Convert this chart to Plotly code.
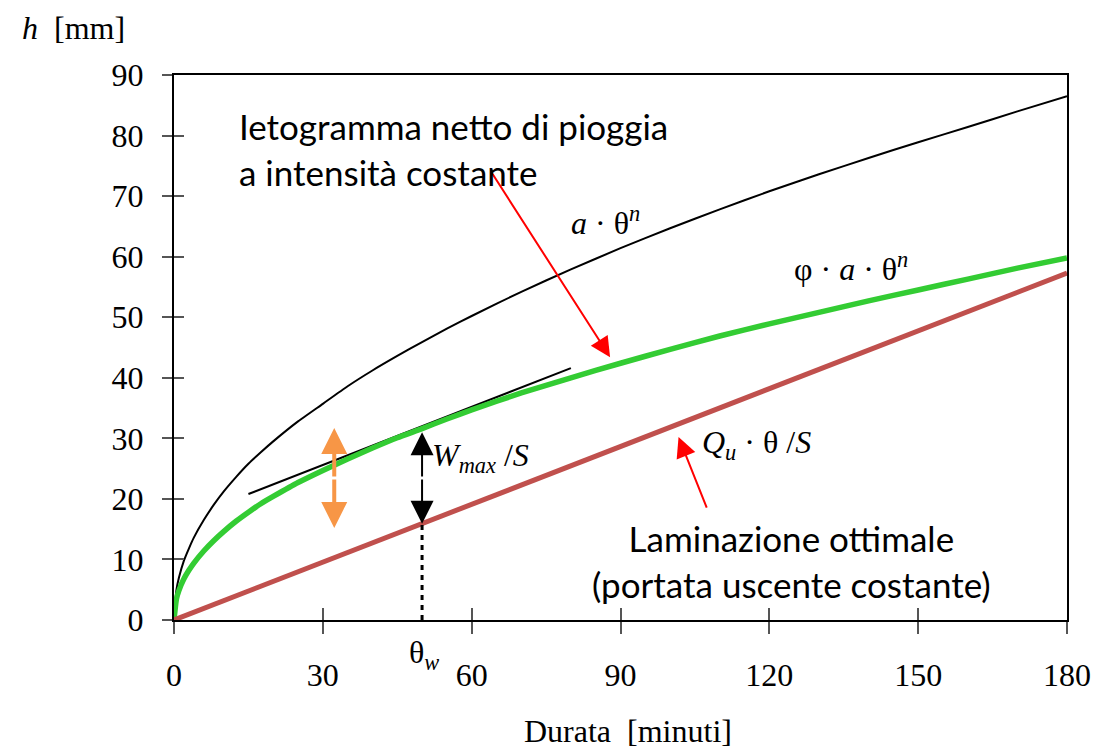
import plotly.graph_objects as go

# ---- data ----
theta = [0, 0.5, 1, 2, 3, 4, 6, 8, 10, 12.5, 15, 17.5, 20, 25, 30, 35, 40, 45, 50, 55, 60,
         70, 80, 90, 100, 110, 120, 130, 140, 150, 160, 170, 180]
h_gross = [0, 5.0, 7.0, 9.8, 11.8, 13.6, 16.5, 19.0, 21.2, 23.6, 25.8, 27.7, 29.5, 32.8, 35.7,
           38.6, 41.2, 43.6, 45.9, 48.1, 50.2, 54.2, 57.9, 61.4, 64.7, 67.8, 70.8, 73.6, 76.3,
           78.9, 81.4, 84.0, 86.5]
h_net = [0, 3.5, 4.9, 6.8, 8.2, 9.4, 11.4, 13.1, 14.6, 16.3, 17.8, 19.2, 20.4, 22.7, 24.7,
         26.6, 28.4, 30.1, 31.6, 33.2, 34.7, 37.5, 40.0, 42.4, 44.7, 46.9, 48.9, 50.8, 52.7,
         54.5, 56.3, 58.1, 59.8]
out_theta = [0, 180]
out_h = [0, 57.3]
tangent_theta = [15, 80]
tangent_h = [20.8, 41.6]
theta_w = 50
wmax_top, wmax_bottom = 31.0, 15.9
orange_theta, orange_top, orange_bottom = 32.3, 31.7, 15.2

x_ticks = [0, 30, 60, 90, 120, 150, 180]
y_ticks = [0, 10, 20, 30, 40, 50, 60, 70, 80, 90]

SERIF = "Liberation Serif"
SANS = "Lato"

fig = go.Figure()
fig.add_trace(go.Scatter(x=theta, y=h_gross, mode="lines",
                         line=dict(color="black", width=2, shape="spline", smoothing=0.5),
                         showlegend=False))
fig.add_trace(go.Scatter(x=tangent_theta, y=tangent_h, mode="lines",
                         line=dict(color="black", width=2), showlegend=False))
fig.add_trace(go.Scatter(x=theta, y=h_net, mode="lines",
                         line=dict(color="#33CC33", width=5.5, shape="spline", smoothing=0.5),
                         showlegend=False))
fig.add_trace(go.Scatter(x=out_theta, y=out_h, mode="lines",
                         line=dict(color="#C0504D", width=5), showlegend=False))
fig.add_trace(go.Scatter(x=[theta_w, theta_w], y=[0, wmax_bottom], mode="lines",
                         line=dict(color="black", width=3, dash="5px,5px"), showlegend=False))
# invisible trace for overlay axes
fig.add_trace(go.Scatter(x=[0], y=[0], mode="markers", marker=dict(opacity=0),
                         xaxis="x2", yaxis="y2", showlegend=False, hoverinfo="skip"))

ann = []
# double arrows
for (xx, top, bot, col, w, sz) in [(theta_w, wmax_top, wmax_bottom, "black", 2, 2.3),
                                   (orange_theta, orange_top, orange_bottom, "#F79646", 4, 1.3)]:
    mid = (top + bot) / 2
    for end in (top, bot):
        ann.append(dict(x=xx, y=end, ax=xx, ay=mid, xref="x", yref="y", axref="x", ayref="y",
                        text="", showarrow=True, arrowhead=2, arrowsize=sz, arrowwidth=w,
                        arrowcolor=col, standoff=0))
# red arrows
ann.append(dict(x=87.9, y=43.4, ax=63.7, ay=74.3, xref="x", yref="y", axref="x", ayref="y",
                text="", showarrow=True, arrowhead=2, arrowsize=2.0, arrowwidth=2,
                arrowcolor="#FF0000", standoff=0))
ann.append(dict(x=101.7, y=30.2, ax=107.5, ay=18.3, xref="x", yref="y", axref="x", ayref="y",
                text="", showarrow=True, arrowhead=2, arrowsize=2.0, arrowwidth=2,
                arrowcolor="#FF0000", standoff=0))

def txt(x, y, s, fam, size, xanchor="center", align="center", xref="x", yref="y"):
    ann.append(dict(x=x, y=y, xref=xref, yref=yref, text=s, showarrow=False,
                    font=dict(family=fam, size=size, color="black"),
                    xanchor=xanchor, yanchor="middle", align=align))

txt(12.7, 77.8, "Ietogramma netto di pioggia<br>a intensità costante", SANS, 35, "left", "left")
txt(124.4, 9.7, "Laminazione ottimale<br>(portata uscente costante)", SANS, 35)
txt(86.9, 65.9, "<i>a</i> · θ<sup><i>n</i></sup>", SERIF, 32)
txt(136.5, 58.3, "φ · <i>a</i> · θ<sup><i>n</i></sup>", SERIF, 32)
txt(51.6, 26.8, "<i>W<sub>max</sub></i> /<i>S</i>", SERIF, 32, "left")
txt(106.0, 29.0, "<i>Q<sub>u</sub></i> · θ /<i>S</i>", SERIF, 32, "left")
txt(theta_w + 0.4, -0.064, "θ<sub><i>w</i></sub>", SERIF, 32, yref="paper")
txt(-0.1725, 1.086, "<i>h</i>  [mm]", SERIF, 32, "left", xref="paper", yref="paper")
txt(0.5084, -0.2035, "Durata  [minuti]", SERIF, 32, xref="paper", yref="paper")

fig.update_layout(
    width=1095, height=749, autosize=False,
    margin=dict(l=174, r=28, t=75, b=129, autoexpand=False),
    paper_bgcolor="white", plot_bgcolor="white",
    annotations=ann,
    xaxis=dict(range=[0, 180], tickvals=x_ticks, ticktext=[str(v) for v in x_ticks],
               showgrid=False, zeroline=False, showline=True, linecolor="black", linewidth=2,
               mirror=True, ticks="outside", ticklen=12, tickcolor="#555", tickwidth=1.5,
               automargin=False,
               tickfont=dict(family=SERIF, size=32, color="black"), ticklabelstandoff=14),
    yaxis=dict(range=[0, 90], tickvals=y_ticks, ticktext=[str(v) for v in y_ticks],
               showgrid=False, zeroline=False, showline=True, linecolor="black", linewidth=2,
               mirror=True, ticks="outside", ticklen=10, tickcolor="#555", tickwidth=1.5,
               automargin=False,
               tickfont=dict(family=SERIF, size=32, color="black"), ticklabelstandoff=12),
    xaxis2=dict(overlaying="x", matches="x", tickvals=x_ticks, showticklabels=False,
                ticks="inside", ticklen=12, tickcolor="#555", tickwidth=1.5,
                showgrid=False, zeroline=False, showline=False),
    yaxis2=dict(overlaying="y", matches="y", tickvals=y_ticks, showticklabels=False,
                ticks="inside", ticklen=10, tickcolor="#555", tickwidth=1.5,
                showgrid=False, zeroline=False, showline=False),
)

fig.write_html("out.html")
